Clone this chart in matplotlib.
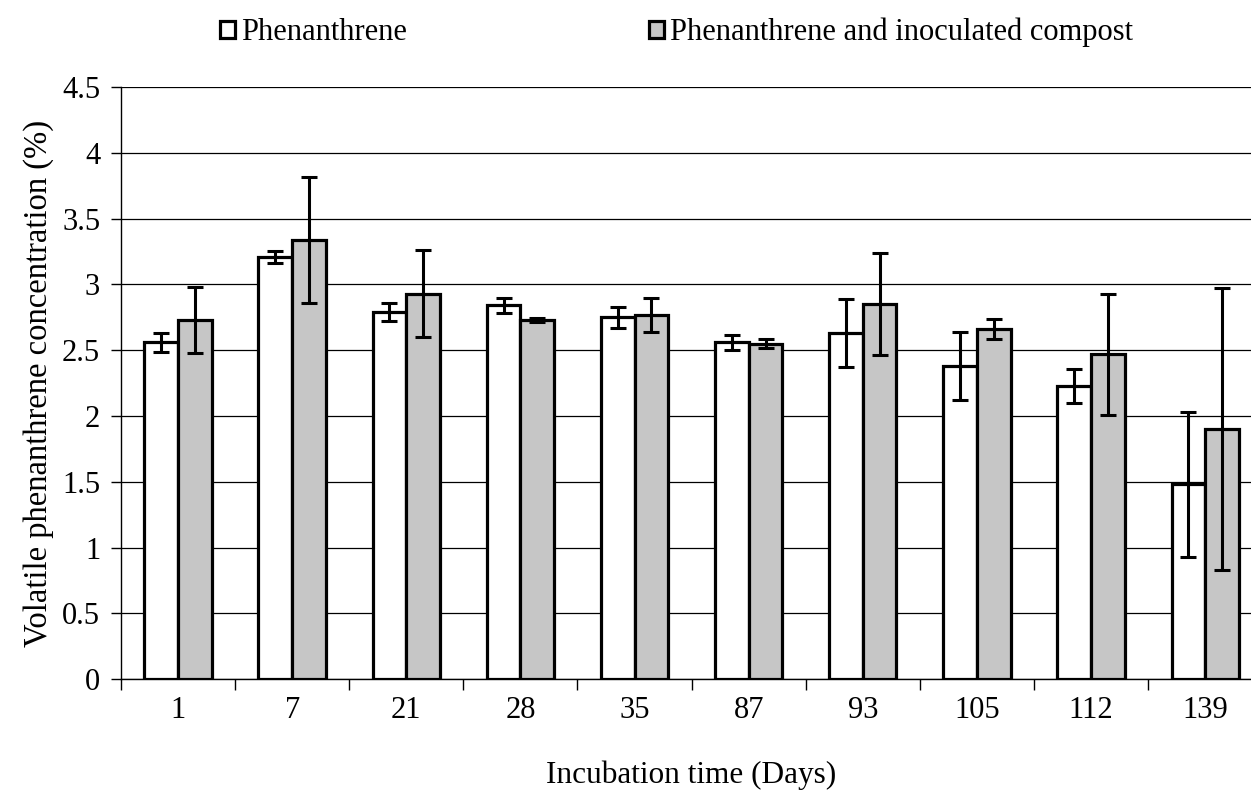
import numpy as np
import matplotlib.pyplot as plt

# incubation days and volatile phenanthrene (%), mean and error
days = ['1', '7', '21', '28', '35', '87', '93', '105', '112', '139']
phen = [2.56, 3.21, 2.79, 2.84, 2.75, 2.56, 2.63, 2.38, 2.23, 1.48]
phen_err = [0.07, 0.045, 0.07, 0.06, 0.08, 0.055, 0.26, 0.26, 0.13, 0.55]
comp = [2.73, 3.34, 2.93, 2.73, 2.77, 2.55, 2.85, 2.66, 2.47, 1.90]
comp_err = [0.25, 0.48, 0.33, 0.015, 0.13, 0.035, 0.39, 0.075, 0.46, 1.07]
yticks = [0, 0.5, 1, 1.5, 2, 2.5, 3, 3.5, 4, 4.5]
ytick_labels = ['0', '0.5', '1', '1.5', '2', '2.5', '3', '3.5', '4', '4.5']

plt.rcParams['font.family'] = ['Liberation Serif', 'DejaVu Serif']

fig = plt.figure(figsize=(12.51, 7.99), dpi=100)
ax = fig.add_axes([0.0967, 0.150, 0.9123, 0.741])

x = np.arange(len(days))
w = 0.295
err_kw = dict(ecolor='black', elinewidth=2.2, capsize=5.5, capthick=2.2)
ax.bar(x - w / 2, phen, w, yerr=phen_err, color='white', edgecolor='black',
       linewidth=2.3, error_kw=err_kw, zorder=3, label='Phenanthrene')
ax.bar(x + w / 2, comp, w, yerr=comp_err, color='#c6c6c6', edgecolor='black',
       linewidth=2.3, error_kw=err_kw, zorder=3,
       label='Phenanthrene and inoculated compost')

ax.set_xlim(-0.5, len(days) - 0.5)
ax.set_ylim(0, 4.5)
ax.set_yticks(yticks)
ax.set_yticklabels(ytick_labels, fontsize=22)
ax.set_xticks(x)
ax.set_xticklabels(days, fontsize=22)
ax.tick_params(axis='x', length=0, pad=12)
ax.set_xticks(np.arange(len(days) + 1) - 0.5, minor=True)
ax.tick_params(axis='x', which='minor', length=8, width=1, direction='out')
ax.tick_params(axis='y', length=7, width=1, direction='out', pad=8)

ax.grid(axis='y', color='black', linewidth=0.9, zorder=0)
ax.set_axisbelow(True)
for s in ['top', 'right']:
    ax.spines[s].set_visible(False)
ax.spines['left'].set_linewidth(1)
ax.spines['bottom'].set_linewidth(1)

ax.set_xlabel('Incubation time (Days)', fontsize=22.5, labelpad=26)
ax.set_ylabel('Volatile phenanthrene concentration (%)', fontsize=23.5, labelpad=6)

fig.legend(loc='upper left', bbox_to_anchor=(0.154, 1.012), ncol=2, frameon=False,
           fontsize=22, handlelength=0.5, handleheight=0.5, handletextpad=0.2,
           columnspacing=7.9)

fig.savefig('out.png', dpi=100)
